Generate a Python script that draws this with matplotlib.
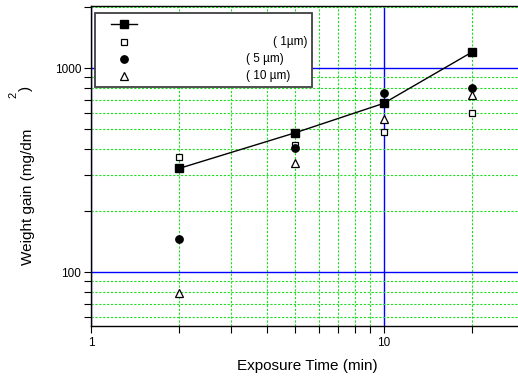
import numpy as np
import matplotlib
matplotlib.use('Agg')
import matplotlib.pyplot as plt
from matplotlib.ticker import LogLocator, NullFormatter, FixedLocator, FixedFormatter
from matplotlib.patches import Rectangle

plt.rcParams['font.family'] = ['Liberation Sans', 'DejaVu Sans']

# exposure time (min)
t = [2, 5, 10, 20]
# weight gain (mg/dm^2)
w_line = [322, 482, 671, 1194]
w_1um = [367, 420, 486, 600]
w_5um = [146, 407, 751, 801]
w_10um = [79, 343, 560, 737]
labels = ['', '( 1\u00b5m)', '( 5 \u00b5m)', '( 10 \u00b5m)']

fig = plt.figure(figsize=(5.18, 3.78), dpi=100)
ax = fig.add_axes([91/518, 1-326/378, 1-91/518+0.01, 320/378])
ax.set_xscale('log')
ax.set_yscale('log')
ax.set_xlim(1, 10**((518-91)/293.0 + 0.02))
ax.set_ylim(54.4, 2014)

# grids
ax.xaxis.set_minor_locator(LogLocator(base=10, subs=np.arange(2, 10)))
ax.yaxis.set_minor_locator(LogLocator(base=10, subs=np.arange(2, 10)))
ax.xaxis.set_minor_formatter(NullFormatter())
ax.yaxis.set_minor_formatter(NullFormatter())
ax.xaxis.set_major_locator(FixedLocator([1, 10]))
ax.xaxis.set_major_formatter(FixedFormatter(['1', '10']))
ax.yaxis.set_major_locator(FixedLocator([100, 1000]))
ax.yaxis.set_major_formatter(FixedFormatter(['100', '1000']))
ax.grid(which='major', color='#0000ff', lw=1.0, ls='-')
ax.grid(which='minor', color='#22dd22', lw=0.8, ls=(0, (2.0, 1.5)))
ax.set_axisbelow(True)

ax.tick_params(which='both', direction='out', length=5, width=0.8, labelsize=8.5,
               top=False, right=False, colors='black')
ax.tick_params(axis='x', pad=3)
ax.tick_params(axis='y', pad=2)
ax.spines['right'].set_visible(False)
for s in ['left', 'bottom', 'top']:
    ax.spines[s].set_linewidth(1.0)

ax.plot(t, w_line, '-', color='black', lw=1.0, zorder=3)
ax.plot(t, w_1um, 's', mfc='white', mec='black', ms=5, mew=0.9, zorder=3, clip_on=False)
ax.plot(t, w_5um, 'o', color='black', ms=5.3, zorder=4, clip_on=False)
ax.plot(t, w_10um, '^', mfc='white', mec='black', ms=5.5, mew=0.9, zorder=4, clip_on=False)
ax.plot(t, w_line, 's', color='black', ms=5.2, zorder=5, clip_on=False)

ax.set_xlabel('Exposure Time (min)', fontsize=11, labelpad=7)

# y label, pieces as in original
fig.text(28/518, 1-197/378, 'Weight gain (mg/dm', rotation=90, fontsize=11,
         ha='center', va='center')
fig.text(13/518, 1-95/378, '2', rotation=90, fontsize=8, ha='center', va='center')
fig.text(26/518, 1-88/378, ')', rotation=90, fontsize=11, ha='center', va='center')

# legend box
def fx(px):
    return px / 518.0

def fy(py):
    return 1 - py / 378.0

fig.patches.append(Rectangle((fx(95), fy(87)), fx(312) - fx(95), fy(13) - fy(87),
                             transform=fig.transFigure, facecolor='white',
                             edgecolor='#404040', lw=1.3, zorder=10))
rows = [24.3, 42.3, 59.3, 76]
fig.lines.append(plt.Line2D([fx(111), fx(137)], [fy(rows[0])] * 2, transform=fig.transFigure,
                            color='black', lw=1.0, zorder=11))
fig.lines.append(plt.Line2D([fx(124)], [fy(rows[0])], transform=fig.transFigure, marker='s',
                            color='black', ms=5.2, zorder=12))
fig.lines.append(plt.Line2D([fx(124)], [fy(rows[1])], transform=fig.transFigure, marker='s',
                            mfc='white', mec='black', ms=5, mew=0.9, zorder=12))
fig.lines.append(plt.Line2D([fx(124)], [fy(rows[2])], transform=fig.transFigure, marker='o',
                            color='black', ms=5.3, zorder=12))
fig.lines.append(plt.Line2D([fx(124)], [fy(rows[3])], transform=fig.transFigure, marker='^',
                            mfc='white', mec='black', ms=5.5, mew=0.9, zorder=12))
label_x = [0, 273, 246, 246]
for i in range(1, 4):
    fig.text(fx(label_x[i]), fy(rows[i]), labels[i], fontsize=8.5, ha='left', va='center',
             zorder=13)

fig.savefig('out.png', dpi=100)
